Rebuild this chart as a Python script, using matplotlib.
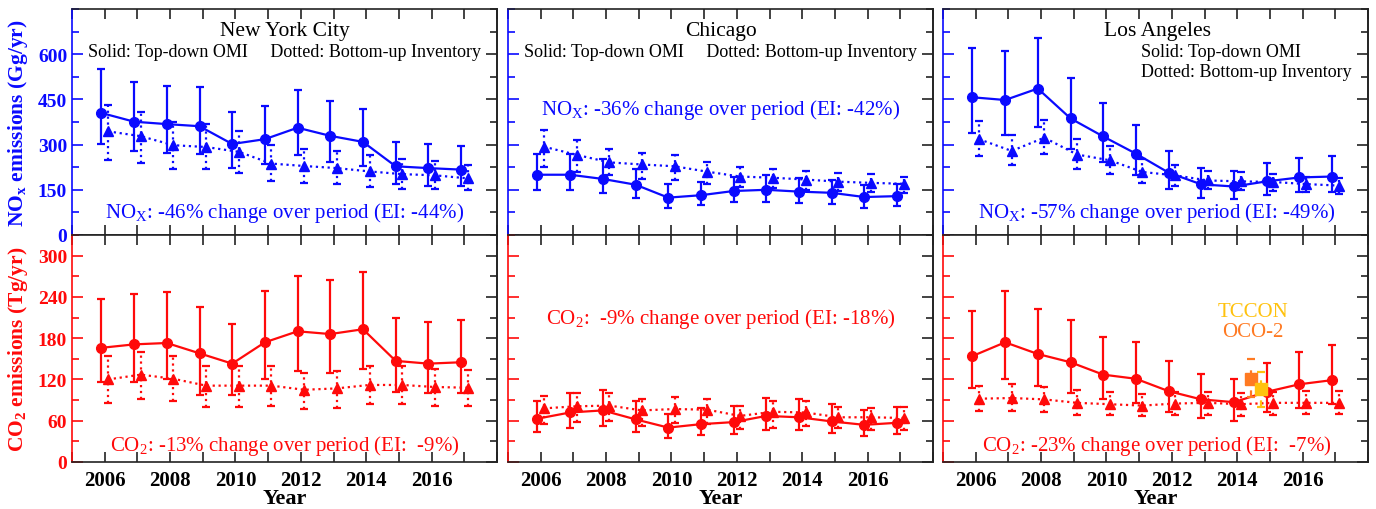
import matplotlib
matplotlib.use("Agg")
from matplotlib import pyplot as plt
from matplotlib.ticker import MultipleLocator, FixedLocator, NullFormatter

plt.rcParams['font.family'] = ['Liberation Serif', 'DejaVu Serif']
plt.rcParams['mathtext.fontset'] = 'custom'
plt.rcParams['mathtext.rm'] = 'Liberation Serif'
plt.rcParams['mathtext.bf'] = 'Liberation Serif:bold'

years = [2006, 2007, 2008, 2009, 2010, 2011, 2012, 2013, 2014, 2015, 2016, 2017]
year_labels = [2006, 2008, 2010, 2012, 2014, 2016]
cities = ["New York City", "Chicago", "Los Angeles"]

# NOx (Gg/yr): top-down OMI (circles) and bottom-up inventory (triangles), with bar ends
nyc_nox_td = [405, 376, 368, 361, 302, 318, 356, 329, 309, 228, 222, 217]
nyc_nox_td_hi = [551, 507, 493, 490, 408, 429, 480, 444, 418, 309, 301, 294]
nyc_nox_td_lo = [302, 278, 271, 268, 222, 236, 264, 242, 229, 170, 164, 161]
nyc_nox_ei = [344, 328, 298, 292, 276, 237, 229, 222, 211, 202, 198, 188]
nyc_nox_ei_hi = [433, 409, 376, 367, 344, 298, 287, 278, 264, 253, 246, 232]
nyc_nox_ei_lo = [249, 238, 220, 218, 207, 179, 173, 169, 159, 153, 151, 148]

chi_nox_td = [200, 200, 186, 167, 124, 132, 146, 150, 144, 140, 126, 129]
chi_nox_td_hi = [269, 269, 251, 220, 168, 176, 193, 200, 190, 184, 167, 170]
chi_nox_td_lo = [149, 149, 140, 123, 91, 98, 108, 111, 107, 103, 91, 96]
chi_nox_ei = [293, 266, 241, 234, 228, 210, 194, 190, 184, 177, 173, 170]
chi_nox_ei_hi = [347, 314, 287, 273, 264, 242, 226, 220, 213, 206, 201, 194]
chi_nox_ei_lo = [226, 209, 198, 187, 183, 170, 159, 156, 150, 146, 142, 139]

la_nox_td = [457, 448, 486, 387, 327, 270, 207, 168, 161, 178, 191, 194]
la_nox_td_hi = [619, 609, 653, 521, 438, 364, 280, 224, 212, 240, 256, 262]
la_nox_td_lo = [339, 333, 360, 287, 242, 200, 153, 123, 118, 134, 142, 144]
la_nox_ei = [318, 279, 323, 267, 248, 209, 198, 181, 178, 176, 169, 164]
la_nox_ei_hi = [378, 331, 382, 318, 296, 251, 233, 213, 209, 203, 192, 189]
la_nox_ei_lo = [262, 231, 269, 218, 204, 173, 162, 151, 148, 146, 142, 137]

# CO2 (Tg/yr)
nyc_co2_td = [166, 171, 173, 158, 143, 174, 190, 186, 193, 147, 143, 145]
nyc_co2_td_hi = [237, 244, 247, 226, 201, 248, 271, 265, 276, 209, 204, 207]
nyc_co2_td_lo = [116, 117, 121, 97, 98, 121, 132, 129, 135, 102, 100, 101]
nyc_co2_ei = [120, 127, 121, 111, 111, 111, 105, 107, 112, 112, 109, 108]
nyc_co2_ei_hi = [154, 160, 154, 139, 139, 139, 130, 133, 140, 139, 135, 134]
nyc_co2_ei_lo = [86, 91, 88, 80, 80, 82, 77, 79, 84, 84, 81, 81]

chi_co2_td = [63, 72, 75, 62, 50, 55, 58, 67, 65, 59, 54, 57]
chi_co2_td_hi = [89, 101, 105, 89, 70, 78, 82, 93, 92, 85, 75, 80]
chi_co2_td_lo = [44, 50, 52, 44, 35, 39, 41, 46, 46, 42, 38, 40]
chi_co2_ei = [78, 81, 82, 75, 77, 76, 67, 73, 72, 65, 65, 64]
chi_co2_ei_hi = [96, 100, 100, 92, 95, 92, 82, 89, 88, 80, 79, 80]
chi_co2_ei_lo = [55, 58, 60, 53, 56, 55, 48, 50, 52, 50, 46, 46]

la_co2_td = [154, 174, 157, 145, 127, 121, 103, 91, 87, 102, 113, 119]
la_co2_td_hi = [219, 249, 223, 206, 182, 174, 147, 128, 121, 144, 160, 170]
la_co2_td_lo = [108, 121, 110, 101, 91, 86, 73, 64, 60, 72, 79, 84]
la_co2_ei = [92, 93, 91, 86, 84, 82, 85, 86, 84, 86, 86, 86]
la_co2_ei_hi = [111, 113, 109, 104, 102, 99, 102, 102, 100, 102, 103, 103]
la_co2_ei_lo = [74, 74, 72, 69, 68, 67, 68, 69, 67, 69, 70, 70]

# LA extra CO2 estimates
oco2_year, oco2_val, oco2_hi, oco2_lo = 2014.42, 121, 150, 95
tccon_year, tccon_val, tccon_hi, tccon_lo = 2014.72, 106, 131, 80

nox_change = ["-46%", "-36%", "-57%"]
nox_ei_change = ["-44%", "-42%", "-49%"]
co2_change = ["-13%", " -9%", "-23%"]
co2_ei_change = [" -9%", "-18%", " -7%"]

nox_td = [nyc_nox_td, chi_nox_td, la_nox_td]
nox_td_hi = [nyc_nox_td_hi, chi_nox_td_hi, la_nox_td_hi]
nox_td_lo = [nyc_nox_td_lo, chi_nox_td_lo, la_nox_td_lo]
nox_ei = [nyc_nox_ei, chi_nox_ei, la_nox_ei]
nox_ei_hi = [nyc_nox_ei_hi, chi_nox_ei_hi, la_nox_ei_hi]
nox_ei_lo = [nyc_nox_ei_lo, chi_nox_ei_lo, la_nox_ei_lo]
co2_td = [nyc_co2_td, chi_co2_td, la_co2_td]
co2_td_hi = [nyc_co2_td_hi, chi_co2_td_hi, la_co2_td_hi]
co2_td_lo = [nyc_co2_td_lo, chi_co2_td_lo, la_co2_td_lo]
co2_ei = [nyc_co2_ei, chi_co2_ei, la_co2_ei]
co2_ei_hi = [nyc_co2_ei_hi, chi_co2_ei_hi, la_co2_ei_hi]
co2_ei_lo = [nyc_co2_ei_lo, chi_co2_ei_lo, la_co2_ei_lo]

BLUE = '#0a0aff'
RED = '#ff0a0a'
GOLD = '#ffc20e'
ORANGE = '#ff7a22'
DARK = '#222222'


def draw_pair(ax, val, hi, lo, ei, ei_hi, ei_lo, color):
    x1 = [y - 0.1 for y in years]
    x2 = [y + 0.1 for y in years]
    err = [[v - l for v, l in zip(val, lo)], [h - v for v, h in zip(val, hi)]]
    ax.errorbar(x1, val, yerr=err, fmt='-o', color=color, lw=1.6, ms=7,
                elinewidth=1.6, capsize=3, capthick=1.6, zorder=3)
    err2 = [[v - l for v, l in zip(ei, ei_lo)], [h - v for v, h in zip(ei, ei_hi)]]
    eb = ax.errorbar(x2, ei, yerr=err2, fmt=':^', color=color, lw=1.6, ms=7,
                     elinewidth=1.6, capsize=3, capthick=1.6, zorder=3)
    eb[2][0].set_linestyle(':')


def style_axis(ax, color, ylim, yticks, minor, show_x, show_y):
    ax.set_xlim(2005, 2018)
    ax.set_ylim(*ylim)
    ax.xaxis.set_major_locator(FixedLocator(year_labels))
    ax.xaxis.set_minor_locator(MultipleLocator(1))
    ax.yaxis.set_major_locator(FixedLocator(yticks))
    ax.yaxis.set_minor_locator(MultipleLocator(minor))
    ax.tick_params(axis='x', which='both', direction='in', top=True, bottom=True,
                   length=7, width=1.2, color=DARK, labelsize=15, pad=6)
    ax.tick_params(axis='y', which='both', direction='in', left=True, right=False,
                   width=1.2, color=color, labelcolor=color, labelsize=14)
    ax.tick_params(axis='y', which='major', length=8)
    ax.tick_params(axis='y', which='minor', length=5)
    if not show_x:
        ax.xaxis.set_major_formatter(NullFormatter())
    if not show_y:
        ax.yaxis.set_major_formatter(NullFormatter())
    for lab in ax.get_xticklabels() + ax.get_yticklabels():
        lab.set_fontweight('bold')
    for s in ['top', 'right', 'bottom']:
        ax.spines[s].set_color(DARK)
        ax.spines[s].set_linewidth(1.2)
    ax.spines['left'].set_color(color)
    ax.spines['left'].set_linewidth(1.2)
    sec = ax.secondary_yaxis('right')
    sec.yaxis.set_major_locator(FixedLocator(yticks))
    sec.yaxis.set_minor_locator(MultipleLocator(minor))
    sec.yaxis.set_major_formatter(NullFormatter())
    sec.tick_params(axis='y', which='both', direction='in', width=1.2, color=DARK)
    sec.tick_params(axis='y', which='major', length=8)
    sec.tick_params(axis='y', which='minor', length=5)
    sec.spines['right'].set_color(DARK)
    sec.spines['right'].set_linewidth(1.2)


fig = plt.figure(figsize=(13.76, 5.10), dpi=100)
W, H = 1376.0, 510.0
lefts = [72, 508, 943]
pw = 425

for i in range(3):
    axn = fig.add_axes([lefts[i] / W, 274 / H, pw / W, 226 / H])
    axc = fig.add_axes([lefts[i] / W, 47 / H, pw / W, 227 / H])
    draw_pair(axn, nox_td[i], nox_td_hi[i], nox_td_lo[i], nox_ei[i], nox_ei_hi[i], nox_ei_lo[i], BLUE)
    draw_pair(axc, co2_td[i], co2_td_hi[i], co2_td_lo[i], co2_ei[i], co2_ei_hi[i], co2_ei_lo[i], RED)
    style_axis(axn, BLUE, (0, 750), [0, 150, 300, 450, 600], 75, False, i == 0)
    style_axis(axc, RED, (0, 330), [0, 60, 120, 180, 240, 300], 30, True, i == 0)
    axc.set_xlabel('Year', fontsize=16, fontweight='bold', labelpad=-2)

    axn.text(0.5 if i < 2 else 0.505, 0.905, cities[i], transform=axn.transAxes,
             ha='center', va='center', fontsize=15.5)
    if i < 2:
        axn.text(0.5, 0.81, 'Solid: Top-down OMI     Dotted: Bottom-up Inventory',
                 transform=axn.transAxes, ha='center', va='center', fontsize=13)
    else:
        axn.text(0.465, 0.81, 'Solid: Top-down OMI', transform=axn.transAxes,
                 ha='left', va='center', fontsize=13)
        axn.text(0.465, 0.725, 'Dotted: Bottom-up Inventory', transform=axn.transAxes,
                 ha='left', va='center', fontsize=13)

    nox_y = 0.558 if i == 1 else 0.10
    axn.text(0.5 if i != 2 else 0.503, nox_y,
             'NO$_\\mathrm{X}$: %s change over period (EI: %s)' % (nox_change[i], nox_ei_change[i]),
             transform=axn.transAxes, ha='center', va='center', fontsize=15, color=BLUE)
    co2_y = 0.634 if i == 1 else 0.075
    axc.text(0.5 if i != 2 else 0.503, co2_y,
             'CO$_\\mathrm{2}$: %s change over period (EI: %s)' % (co2_change[i], co2_ei_change[i]),
             transform=axc.transAxes, ha='center', va='center', fontsize=15, color=RED)

    if i == 0:
        axn.set_ylabel('NO$_\\mathbf{x}$ emissions (Gg/yr)', fontsize=15.5, fontweight='bold', color=BLUE)
        axc.set_ylabel('CO$_\\mathbf{2}$ emissions (Tg/yr)', fontsize=15.5, fontweight='bold', color=RED)
        axn.yaxis.set_label_coords(-0.098, 0.5)
        axc.yaxis.set_label_coords(-0.098, 0.5)

    if i == 2:
        e1 = axc.errorbar([oco2_year], [oco2_val], yerr=[[oco2_val - oco2_lo], [oco2_hi - oco2_val]],
                          fmt='s', color=ORANGE, ms=8, elinewidth=1.6, capsize=3, capthick=1.6, zorder=4)
        e1[2][0].set_linestyle((0, (3, 6)))
        e2 = axc.errorbar([tccon_year], [tccon_val], yerr=[[tccon_val - tccon_lo], [tccon_hi - tccon_val]],
                          fmt='s', color=GOLD, ms=8, elinewidth=1.6, capsize=3, capthick=1.6, zorder=4)
        e2[2][0].set_linestyle((0, (3, 6)))
        axc.text(0.73, 0.665, 'TCCON', transform=axc.transAxes, ha='center', va='center',
                 fontsize=15, color=GOLD)
        axc.text(0.73, 0.575, 'OCO-2', transform=axc.transAxes, ha='center', va='center',
                 fontsize=15, color=ORANGE)

fig.savefig('out.png', dpi=100)
